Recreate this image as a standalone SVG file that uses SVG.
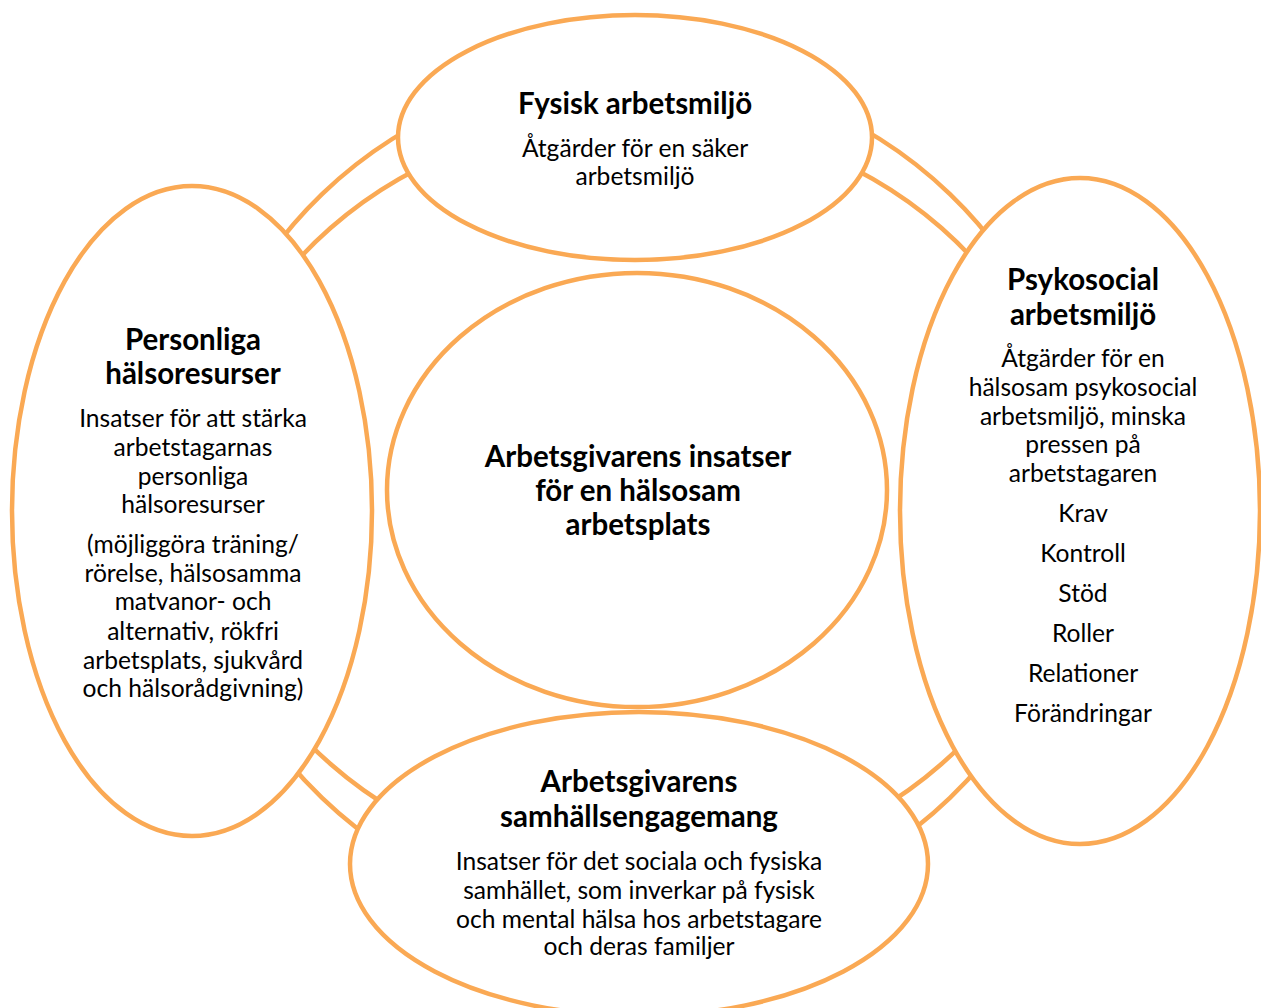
<svg xmlns="http://www.w3.org/2000/svg" width="1261" height="1008" viewBox="0 0 1261 1008">
<style>
.ring{fill:none;stroke:#FAA954;stroke-width:4.5}
.node{fill:#fff;stroke:#FAA954;stroke-width:4.5}
text{font-family:Lato,"Noto Sans",sans-serif;fill:#000;text-anchor:middle}
.t{font-weight:bold;font-size:29.5px}
.b{font-size:24.6px}
</style>
<rect width="1261" height="1008" fill="#fff"/>
<g id="connectors">
<ellipse class="ring" cx="636" cy="496" rx="444" ry="427"/>
<ellipse class="ring" cx="636" cy="496" rx="432" ry="379"/>
</g>
<g id="top">
<ellipse class="node" cx="635" cy="137.5" rx="237" ry="122.5"/>
<text class="t" x="635" y="114">Fysisk arbetsmiljö</text>
<text class="b" x="635" y="157">Åtgärder för en säker</text>
<text class="b" x="635" y="185">arbetsmiljö</text>
</g>
<g id="center">
<ellipse class="node" cx="637" cy="490" rx="250" ry="217"/>
<text class="t" x="638" y="467">Arbetsgivarens insatser</text>
<text class="t" x="638" y="501">för en hälsosam</text>
<text class="t" x="638" y="535">arbetsplats</text>
</g>
<g id="left">
<ellipse class="node" cx="192" cy="511" rx="180" ry="325"/>
<text class="t" x="193" y="350">Personliga</text>
<text class="t" x="193" y="384">hälsoresurser</text>
<text class="b" x="193" y="427">Insatser för att stärka</text>
<text class="b" x="193" y="456">arbetstagarnas</text>
<text class="b" x="193" y="485">personliga</text>
<text class="b" x="193" y="513">hälsoresurser</text>
<text class="b" x="193" y="553">(möjliggöra träning/</text>
<text class="b" x="193" y="582">rörelse, hälsosamma</text>
<text class="b" x="193" y="610">matvanor- och</text>
<text class="b" x="193" y="640">alternativ, rökfri</text>
<text class="b" x="193" y="669">arbetsplats, sjukvård</text>
<text class="b" x="193" y="697">och hälsorådgivning)</text>
</g>
<g id="right">
<ellipse class="node" cx="1080" cy="511" rx="180" ry="333"/>
<text class="t" x="1083" y="290">Psykosocial</text>
<text class="t" x="1083" y="325">arbetsmiljö</text>
<text class="b" x="1083" y="367">Åtgärder för en</text>
<text class="b" x="1083" y="396">hälsosam psykosocial</text>
<text class="b" x="1083" y="425">arbetsmiljö, minska</text>
<text class="b" x="1083" y="453">pressen på</text>
<text class="b" x="1083" y="482">arbetstagaren</text>
<text class="b" x="1083" y="522">Krav</text>
<text class="b" x="1083" y="562">Kontroll</text>
<text class="b" x="1083" y="602">Stöd</text>
<text class="b" x="1083" y="642">Roller</text>
<text class="b" x="1083" y="682">Relationer</text>
<text class="b" x="1083" y="722">Förändringar</text>
</g>
<g id="bottom">
<ellipse class="node" cx="639" cy="864" rx="289" ry="152"/>
<text class="t" x="639" y="792">Arbetsgivarens</text>
<text class="t" x="639" y="827">samhällsengagemang</text>
<text class="b" x="639" y="870">Insatser för det sociala och fysiska</text>
<text class="b" x="639" y="899">samhället, som inverkar på fysisk</text>
<text class="b" x="639" y="928">och mental hälsa hos arbetstagare</text>
<text class="b" x="639" y="955">och deras familjer</text>
</g>
</svg>
